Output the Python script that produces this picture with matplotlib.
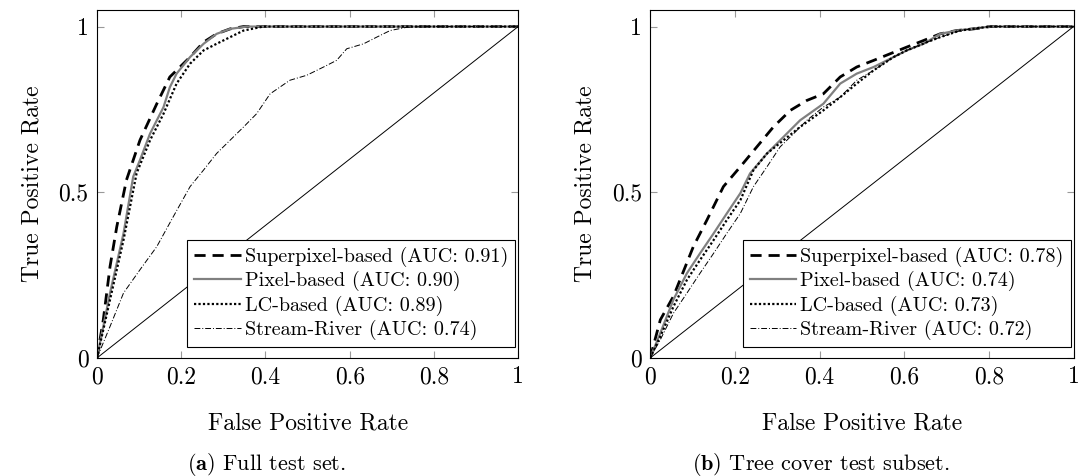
import numpy as np
import matplotlib
matplotlib.use('Agg')
import matplotlib.pyplot as plt

plt.rcParams['font.family'] = ['cmr10', 'DejaVu Serif']
plt.rcParams['mathtext.fontset'] = 'cm'
plt.rcParams['axes.unicode_minus'] = False
plt.rcParams['axes.formatter.use_mathtext'] = True

# (a) full test set
a_super_x = [0, .015, .031, .047, .070, .102, .142, .173, .221, .253, .284, .316, .348, 1]
a_super_y = [0, .115, .276, .396, .537, .657, .767, .848, .908, .953, .978, .993, 1.0, 1]
a_pixel_x = [0, .031, .063, .086, .102, .126, .158, .173, .189, .221, .253, .284, .316, .356, 1]
a_pixel_y = [0, .196, .376, .547, .597, .677, .757, .817, .858, .908, .948, .978, .993, 1.0, 1]
a_lc_x = [0, .031, .063, .094, .126, .158, .189, .221, .253, .284, .316, .348, .395, 1]
a_lc_y = [0, .176, .356, .557, .657, .737, .828, .888, .928, .948, .968, .988, 1.0, 1]
a_stream_x = [0, .031, .063, .102, .142, .181, .221, .253, .284, .316, .348, .379, .411, .458,
              .498, .538, .569, .593, .633, .664, .696, .736, .775, 1]
a_stream_y = [0, .095, .196, .266, .336, .426, .517, .567, .617, .657, .697, .737, .797, .838,
              .853, .878, .898, .933, .948, .968, .988, .998, 1.0, 1]

# (b) tree cover test subset
b_super_x = [0, .024, .055, .102, .134, .173, .213, .252, .291, .331, .370, .409, .449, .488,
             .528, .567, .606, .646, .685, .724, .764, .803, 1]
b_super_y = [0, .115, .186, .336, .416, .517, .577, .637, .697, .747, .777, .797, .848, .878,
             .898, .918, .938, .958, .978, .988, .993, 1.0, 1]
b_pixel_x = [0, .024, .055, .087, .118, .150, .181, .213, .236, .276, .315, .354, .409, .449,
             .488, .528, .575, .606, .646, .685, .724, .803, 1]
b_pixel_y = [0, .075, .176, .256, .316, .376, .436, .497, .557, .617, .667, .717, .767, .828,
             .858, .878, .908, .928, .948, .978, .988, 1.0, 1]
b_lc_x = [0, .024, .055, .087, .118, .150, .181, .213, .244, .276, .315, .354, .409, .449,
          .488, .528, .575, .606, .654, .685, .732, .803, 1]
b_lc_y = [0, .065, .155, .236, .296, .356, .416, .476, .567, .617, .657, .697, .747, .787,
          .828, .868, .908, .928, .953, .968, .988, 1.0, 1]
b_stream_x = [0, .024, .055, .087, .118, .150, .181, .213, .244, .276, .307, .339, .370, .409,
              .449, .488, .528, .575, .606, .654, .685, .732, .803, 1]
b_stream_y = [0, .055, .135, .196, .256, .316, .376, .436, .517, .577, .637, .677, .717, .757,
              .787, .838, .868, .908, .928, .953, .968, .988, 1.0, 1]

names = ['Superpixel-based', 'Pixel-based', 'LC-based', 'Stream-River']
auc_a = ['0.91', '0.90', '0.89', '0.74']
auc_b = ['0.78', '0.74', '0.73', '0.72']

ticks_x = [0, 0.2, 0.4, 0.6, 0.8, 1]
ticks_x_lab = ['0', '0.2', '0.4', '0.6', '0.8', '1']
ticks_y = [0, 0.5, 1]
ticks_y_lab = ['0', '0.5', '1']

styles = [dict(color='black', ls=(0, (4, 2.5)), lw=2.0),
          dict(color='#808080', ls='-', lw=1.6),
          dict(color='black', ls=(0, (1, 1)), lw=1.6),
          dict(color='black', ls=(0, (6, 2, 1, 2)), lw=0.7)]

fig = plt.figure(figsize=(10.8, 4.76), dpi=100)
ax1 = fig.add_axes([0.0898, 0.248, 0.390, 0.731])
ax2 = fig.add_axes([0.602, 0.248, 0.392, 0.731])

panels = [
    (ax1, [(a_super_x, a_super_y), (a_pixel_x, a_pixel_y), (a_lc_x, a_lc_y), (a_stream_x, a_stream_y)], auc_a),
    (ax2, [(b_super_x, b_super_y), (b_pixel_x, b_pixel_y), (b_lc_x, b_lc_y), (b_stream_x, b_stream_y)], auc_b),
]

for ax, curves, aucs in panels:
    for (x, y), st, n, a in zip(curves, styles, names, aucs):
        ax.plot(x, y, label=f'{n} (AUC: {a})', **st)
    ax.plot([0, 1], [0, 1], color='black', lw=0.7)
    ax.set_xlim(0, 1)
    ax.set_ylim(0, 1.05)
    ax.set_xticks(ticks_x)
    ax.set_xticklabels(ticks_x_lab)
    ax.set_yticks(ticks_y)
    ax.set_yticklabels(ticks_y_lab)
    ax.tick_params(direction='in', top=True, right=True, length=5, width=0.8,
                   color='#999999', labelsize=17, pad=6)
    for s in ax.spines.values():
        s.set_linewidth(0.8)
    ax.set_xlabel('False Positive Rate', fontsize=17, labelpad=17)
    ax.set_ylabel('True Positive Rate', fontsize=17, labelpad=11)
    leg = ax.legend(loc='lower right', bbox_to_anchor=(0.993, 0.032), borderaxespad=0,
                    fontsize=14.5, fancybox=False, edgecolor='black', framealpha=1,
                    handlelength=2.3, handletextpad=0.2, labelspacing=0.2,
                    borderpad=0.35)
    leg.get_frame().set_linewidth(0.8)

fig.text(0.247, 0.013, r'$\mathbf{(a)}$ Full test set.', ha='center', va='baseline', fontsize=16)
fig.text(0.760, 0.013, r'$\mathbf{(b)}$ Tree cover test subset.', ha='center', va='baseline', fontsize=16)

fig.savefig('out.png', dpi=100)
